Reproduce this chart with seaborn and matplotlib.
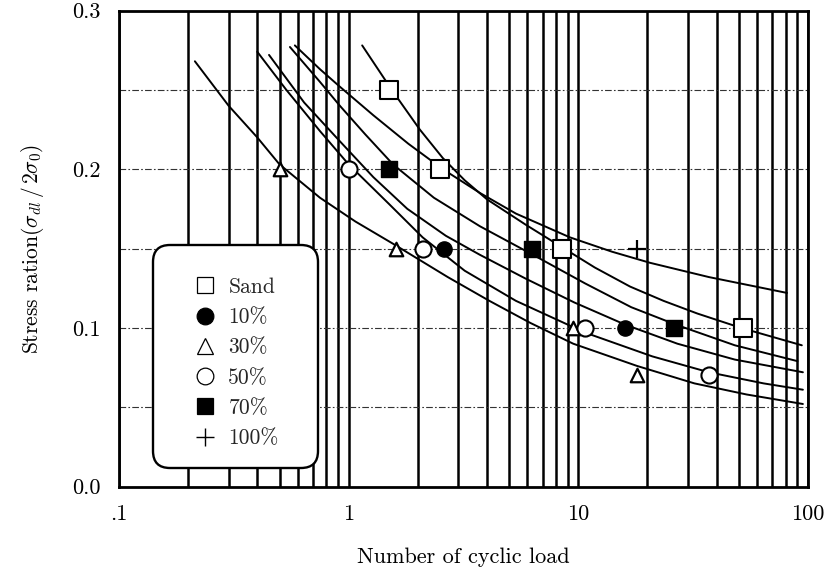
import numpy as np
import pandas as pd
import matplotlib
matplotlib.use("Agg")
import matplotlib.pyplot as plt
from matplotlib.ticker import FixedLocator, LogLocator, NullFormatter
from matplotlib.patches import FancyBboxPatch
from matplotlib.lines import Line2D
import seaborn as sns

# ---- test results: number of cycles N and stress ratio for each mix ----
series_names = ["Sand", "10%", "30%", "50%", "70%", "100%"]

sand_n = [1.5, 2.5, 8.5, 52]
sand_r = [0.25, 0.20, 0.15, 0.10]
p10_n = [2.6, 16]
p10_r = [0.15, 0.10]
p30_n = [0.5, 1.6, 9.5, 18]
p30_r = [0.20, 0.15, 0.10, 0.07]
p50_n = [1.0, 2.1, 10.7, 37]
p50_r = [0.20, 0.15, 0.10, 0.07]
p70_n = [1.5, 6.3, 26]
p70_r = [0.20, 0.15, 0.10]
p100_n = [18]
p100_r = [0.15]

# ---- fitted strength curves (N, stress ratio) ----
fit_sand_n = [1.145, 1.54, 2.04, 2.57, 3.2, 4.0, 5.9, 8.45, 11.8, 16.8, 23.5, 33, 51, 94]
fit_sand_r = [0.278, 0.250, 0.225, 0.207, 0.193, 0.181, 0.165, 0.151, 0.138, 0.126, 0.117, 0.109, 0.100, 0.089]
fit_10_n = [0.45, 0.64, 0.91, 1.28, 1.8, 2.65, 3.73, 5.9, 9.6, 16, 27, 48, 95]
fit_10_r = [0.272, 0.242, 0.218, 0.195, 0.175, 0.158, 0.146, 0.131, 0.116, 0.102, 0.090, 0.080, 0.072]
fit_30_n = [0.214, 0.30, 0.40, 0.50, 0.75, 1.07, 1.56, 2.7, 4.1, 6.2, 9.5, 18, 32, 54, 95]
fit_30_r = [0.268, 0.240, 0.220, 0.203, 0.182, 0.167, 0.153, 0.132, 0.117, 0.103, 0.090, 0.076, 0.065, 0.058, 0.052]
fit_50_n = [0.40, 0.535, 0.75, 1.0, 1.5, 2.1, 3.2, 5.35, 10.7, 21, 37, 64, 95]
fit_50_r = [0.274, 0.250, 0.224, 0.203, 0.178, 0.157, 0.136, 0.117, 0.097, 0.082, 0.072, 0.065, 0.061]
fit_70_n = [0.555, 0.75, 0.915, 1.18, 1.56, 2.35, 3.73, 6.35, 10.7, 17, 26.6, 48, 90]
fit_70_r = [0.277, 0.255, 0.240, 0.222, 0.203, 0.182, 0.164, 0.146, 0.128, 0.113, 0.102, 0.089, 0.079]
fit_100_n = [0.583, 0.75, 0.915, 1.28, 1.82, 2.57, 3.73, 5.35, 9.2, 14, 20.5, 37, 81]
fit_100_r = [0.278, 0.263, 0.252, 0.234, 0.216, 0.200, 0.185, 0.172, 0.157, 0.148, 0.141, 0.132, 0.122]

x_tick_vals = [0.1, 1, 10, 100]
x_tick_labels = [".1", "1", "10", "100"]
y_tick_vals = [0.0, 0.1, 0.2, 0.3]
y_tick_labels = ["0.0", "0.1", "0.2", "0.3"]

points = {
    "Sand": (sand_n, sand_r),
    "10%": (p10_n, p10_r),
    "30%": (p30_n, p30_r),
    "50%": (p50_n, p50_r),
    "70%": (p70_n, p70_r),
    "100%": (p100_n, p100_r),
}
fits = {
    "Sand": (fit_sand_n, fit_sand_r),
    "10%": (fit_10_n, fit_10_r),
    "30%": (fit_30_n, fit_30_r),
    "50%": (fit_50_n, fit_50_r),
    "70%": (fit_70_n, fit_70_r),
    "100%": (fit_100_n, fit_100_r),
}

curves = pd.concat(
    [pd.DataFrame({"N": n, "ratio": r, "mix": name}) for name, (n, r) in fits.items()],
    ignore_index=True,
)

# marker style per mix: (marker, size, face, edge width)
styles = {
    "Sand": ("s", 150, "white", 1.5),
    "10%": ("o", 120, "black", 1.0),
    "30%": ("^", 95, "white", 1.6),
    "50%": ("o", 135, "white", 1.5),
    "70%": ("s", 140, "black", 1.0),
    "100%": ("+", 180, None, 1.6),
}

sns.set_theme(style="white")
plt.rcParams["font.family"] = ["cmr10", "DejaVu Serif"]
plt.rcParams["mathtext.fontset"] = "cm"
plt.rcParams["axes.unicode_minus"] = False

fig = plt.figure(figsize=(8.27, 5.75), dpi=100)
ax = fig.add_axes([119 / 827, 88.5 / 575, 689 / 827, 476 / 575])
ax.set_xscale("log")

sns.lineplot(data=curves, x="N", y="ratio", units="mix", estimator=None, sort=False,
             color="black", lw=1.4, ax=ax, legend=False, zorder=3)

for name in series_names:
    n, r = points[name]
    marker, size, face, ew = styles[name]
    if face is None:
        sns.scatterplot(x=n, y=r, marker=marker, s=size, color="black",
                        linewidth=ew, ax=ax, zorder=4, legend=False)
    else:
        sns.scatterplot(x=n, y=r, marker=marker, s=size, facecolor=face,
                        edgecolor="black", linewidth=ew, ax=ax, zorder=4, legend=False)

ax.set_xlim(0.1, 100)
ax.set_ylim(0, 0.3)

ax.xaxis.set_major_locator(FixedLocator(x_tick_vals))
ax.set_xticklabels(x_tick_labels)
ax.xaxis.set_minor_locator(LogLocator(base=10, subs=np.arange(2, 10)))
ax.xaxis.set_minor_formatter(NullFormatter())
ax.yaxis.set_major_locator(FixedLocator(y_tick_vals))
ax.set_yticklabels(y_tick_labels)
ax.yaxis.set_minor_locator(FixedLocator([0.05, 0.15, 0.25]))

ax.grid(True, which="both", axis="x", color="black", lw=1.8, ls="-")
ax.grid(True, which="both", axis="y", color="#333333", lw=0.8, ls=(0, (6, 2, 1.5, 2)))
ax.tick_params(which="both", length=0)
ax.tick_params(axis="both", which="major", labelsize=16, pad=13, colors="black")

for sp in ax.spines.values():
    sp.set_color("black")
    sp.set_linewidth(2.0)

ax.set_xlabel("Number of cyclic load", fontsize=16, labelpad=17, color="black")
ax.set_ylabel("Stress ration$(\\sigma_{dl}\\,/\\,2\\sigma_0)$", fontsize=15.5, labelpad=19,
              color="black")

# legend panel with rounded frame
box = FancyBboxPatch((1.53, 1.07), 1.65, 2.23,
                     boxstyle="round,pad=0,rounding_size=0.17",
                     transform=fig.dpi_scale_trans, facecolor="white",
                     edgecolor="black", lw=1.7, zorder=6)
ax.add_patch(box)

handles = []
for name in series_names:
    marker, size, face, ew = styles[name]
    if face is None:
        h = Line2D([], [], ls="none", marker="+", ms=13, color="black", mew=1.0)
    else:
        h = Line2D([], [], ls="none", marker=marker, ms=12 if marker != "^" else 11,
                   mfc=face, mec="black", mew=0.9)
    handles.append(h)

leg = ax.legend(handles, series_names, loc="upper left",
                bbox_to_anchor=(1.53, 3.30), bbox_transform=fig.dpi_scale_trans,
                frameon=False, borderpad=1.0, labelspacing=0.5, handlelength=1.8,
                handletextpad=0.2, fontsize=15.5)
leg.set_zorder(7)

fig.savefig("out.png", dpi=100)
